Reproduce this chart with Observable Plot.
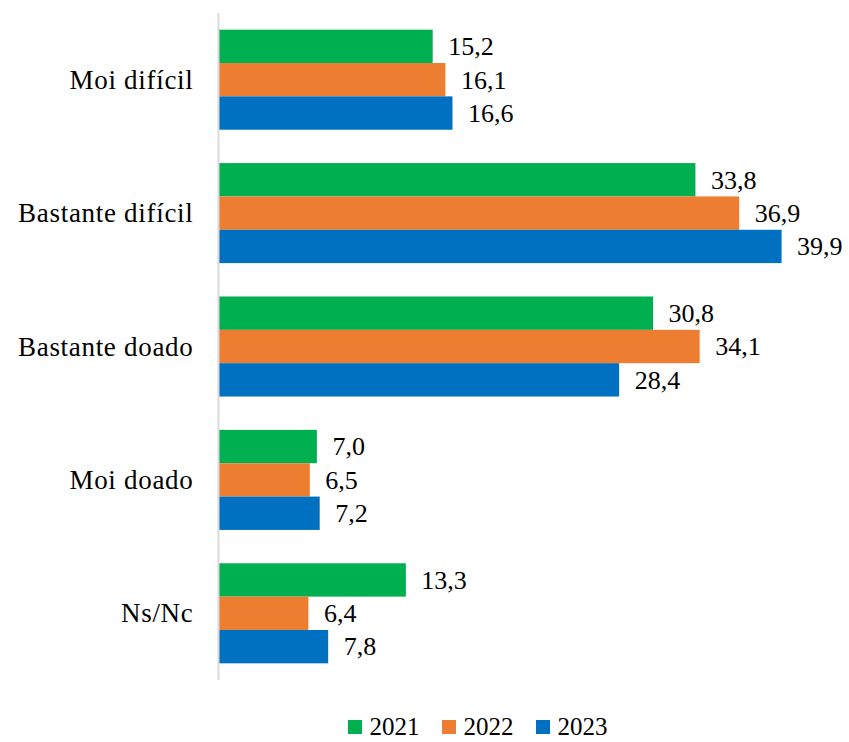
<!DOCTYPE html>
<html>
<head>
<meta charset="utf-8">
<script src="https://cdn.jsdelivr.net/npm/d3@7"></script>
<script src="https://cdn.jsdelivr.net/npm/@observablehq/plot@0.6"></script>
<style>
  body { margin: 0; background: #fff; }
  #chart { width: 849px; }
  .legend { display: flex; justify-content: center; align-items: center; gap: 22px; height: 22px; line-height: 22px; margin-top: 16px; font-family: "Liberation Serif", serif; font-size: 25px; color: #000; padding-left: 106px; box-sizing: border-box; }
  .legend span.item { display: flex; align-items: center; }
  .legend i { display: inline-block; width: 14px; height: 14px; margin-right: 8px; }
  svg g[aria-label="y-axis tick label"] text { letter-spacing: 0.7px; }
</style>
</head>
<body>
<div id="chart"></div>
<script>
const categories = ["Moi difícil", "Bastante difícil", "Bastante doado", "Moi doado", "Ns/Nc"];
const years = ["2021", "2022", "2023"];
const colors = ["#00B050", "#ED7D31", "#0070C0"];
const values2021 = [15.2, 33.8, 30.8, 7.0, 13.3];
const values2022 = [16.1, 36.9, 34.1, 6.5, 6.4];
const values2023 = [16.6, 39.9, 28.4, 7.2, 7.8];

const series = [values2021, values2022, values2023];
const data = [];
categories.forEach((c, i) => {
  years.forEach((y, j) => data.push({cat: c, year: y, value: series[j][i], key: c + "|" + y}));
});
const domain = [];
categories.forEach((c, i) => {
  years.forEach(y => domain.push(c + "|" + y));
  if (i < categories.length - 1) domain.push("gap" + i);
});
const fmt = v => v.toFixed(1).replace(".", ",");

const chart = Plot.plot({
  width: 849,
  height: 700,
  marginLeft: 218,
  marginRight: 66,
  marginTop: 13,
  marginBottom: 20,
  style: {fontFamily: "Liberation Serif, serif", fontSize: "26px", color: "#000", background: "#fff"},
  x: {domain: [0, 40], axis: null},
  y: {domain, padding: 0, paddingOuter: 0.5, round: false, axis: null},
  color: {domain: years, range: colors},
  marks: [
    Plot.barX(data, {y: "key", x: "value", fill: "year", inset: 0}),
    Plot.text(data, {y: "key", x: "value", text: d => fmt(d.value), textAnchor: "start", dx: 15, fill: "#000", fontSize: 26}),
    Plot.axisY({
      ticks: categories.map(c => c + "|2022"),
      tickFormat: d => d.split("|")[0],
      tickSize: 0,
      tickPadding: 25,
      fontSize: 27,
      label: null
    }),
    Plot.ruleX([0], {stroke: "#d9d9d9", strokeWidth: 2})
  ]
});
document.getElementById("chart").appendChild(chart);

const legend = document.createElement("div");
legend.className = "legend";
years.forEach((y, j) => {
  const s = document.createElement("span");
  s.className = "item";
  s.innerHTML = `<i style="background:${colors[j]}"></i>${y}`;
  legend.appendChild(s);
});
document.getElementById("chart").appendChild(legend);
</script>
</body>
</html>
